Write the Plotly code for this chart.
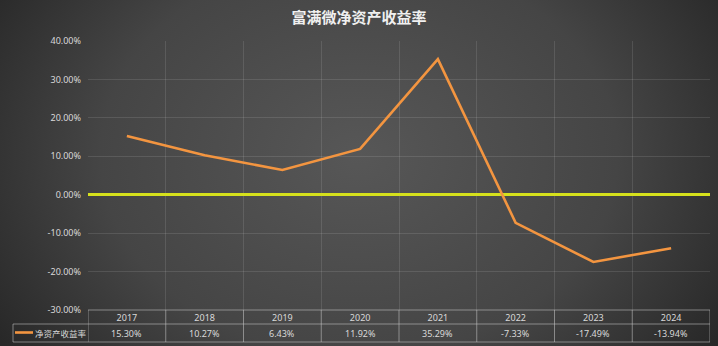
import base64
import plotly.graph_objects as go

years = ["2017", "2018", "2019", "2020", "2021", "2022", "2023", "2024"]
roe = [15.30, 10.27, 6.43, 11.92, 35.29, -7.33, -17.49, -13.94]
roe_labels = ["15.30%", "10.27%", "6.43%", "11.92%", "35.29%", "-7.33%", "-17.49%", "-13.94%"]
series_name = "净资产收益率"
title_text = "富满微净资产收益率"
y_ticks = [40, 30, 20, 10, 0, -10, -20, -30]

W, H = 718, 346
L, R, T, B = 88, 8, 41, 36
PW, PH = W - L - R, H - T - B

def px_x(p):
    return (p - L) / PW

def px_y(p):
    return (H - B - p) / PH

svg = f'''<svg xmlns="http://www.w3.org/2000/svg" width="{W}" height="{H}" viewBox="0 0 {W} {H}" preserveAspectRatio="none">
<defs><radialGradient id="g" cx="0.5" cy="0.45" r="0.6" gradientUnits="objectBoundingBox" gradientTransform="translate(0.5,0.45) scale(1,1.6) translate(-0.5,-0.45)">
<stop offset="0" stop-color="#575757"/><stop offset="0.6" stop-color="#454545"/><stop offset="1" stop-color="#282828"/></radialGradient></defs>
<rect width="{W}" height="{H}" fill="url(#g)"/></svg>'''
src = "data:image/svg+xml;base64," + base64.b64encode(svg.encode()).decode()

fig = go.Figure()
fig.add_trace(go.Scatter(
    x=years, y=roe, mode="lines", name=series_name,
    line=dict(color="#F39540", width=2.6), showlegend=False,
))

grid_col = "rgba(255,255,255,0.11)"
border_col = "rgba(200,200,200,0.55)"
font_num = "Noto Sans, Open Sans, sans-serif"
font_cjk = "Noto Sans CJK SC, sans-serif"

shapes = []
# table horizontal lines
for yy, x0 in [(310, 88), (324, 13), (342, 13)]:
    shapes.append(dict(type="line", xref="paper", yref="paper",
                       x0=px_x(x0), x1=px_x(710), y0=px_y(yy), y1=px_y(yy),
                       line=dict(color=border_col, width=1)))
# table vertical lines
for i in range(len(years) + 1):
    shapes.append(dict(type="line", xref="x", yref="paper",
                       x0=i - 0.5, x1=i - 0.5, y0=px_y(310), y1=px_y(342),
                       line=dict(color=border_col, width=1)))
shapes.append(dict(type="line", xref="paper", yref="paper",
                   x0=px_x(13), x1=px_x(13), y0=px_y(324), y1=px_y(342),
                   line=dict(color=border_col, width=1)))
# legend key
shapes.append(dict(type="line", xref="paper", yref="paper",
                   x0=px_x(15), x1=px_x(33), y0=px_y(332.5), y1=px_y(332.5),
                   line=dict(color="#F39540", width=2.6)))

annotations = []
for i, lab in enumerate(roe_labels):
    annotations.append(dict(x=i, xref="x", y=px_y(333), yref="paper",
                            text=lab, showarrow=False, xanchor="center", yanchor="middle",
                            font=dict(family=font_num, size=9, color="#d9d9d9")))
annotations.append(dict(x=px_x(33), xref="paper", y=px_y(332.5), yref="paper",
                        text=series_name, showarrow=False, xanchor="left", yanchor="middle",
                        font=dict(family=font_cjk, size=8.5, color="#d9d9d9")))

fig.update_layout(
    width=W, height=H,
    margin=dict(l=L, r=R, t=T, b=B),
    paper_bgcolor="#3c3c3c",
    plot_bgcolor="rgba(0,0,0,0)",
    title=dict(text="<b>" + title_text + "</b>", x=0.5, xref="container", xanchor="center",
               y=1 - 18 / H, yref="container", yanchor="middle",
               font=dict(family=font_cjk, size=15, color="#f0f0f0")),
    images=[dict(source=src, xref="paper", yref="paper", x=px_x(0), y=px_y(0),
                 sizex=W / PW, sizey=H / PH, xanchor="left", yanchor="top",
                 sizing="stretch", layer="below")],
    xaxis=dict(type="category", range=[-0.5, len(years) - 0.5], tickson="boundaries",
               showgrid=True, gridcolor=grid_col, gridwidth=1, ticks="",
               tickfont=dict(family=font_num, size=9, color="#d9d9d9"),
               showline=False, zeroline=False, fixedrange=True, ticklabelstandoff=1),
    yaxis=dict(range=[-30, 40], tickvals=y_ticks,
               ticktext=[f"{v:.2f}%" for v in y_ticks],
               showgrid=True, gridcolor=grid_col, gridwidth=1,
               zeroline=True, zerolinecolor="#D6E11C", zerolinewidth=3,
               ticks="", ticklabelstandoff=6,
               tickfont=dict(family=font_num, size=9, color="#d9d9d9"),
               showline=False, fixedrange=True),
    shapes=shapes,
    annotations=annotations,
    showlegend=False,
)

fig.write_html("out.html")
